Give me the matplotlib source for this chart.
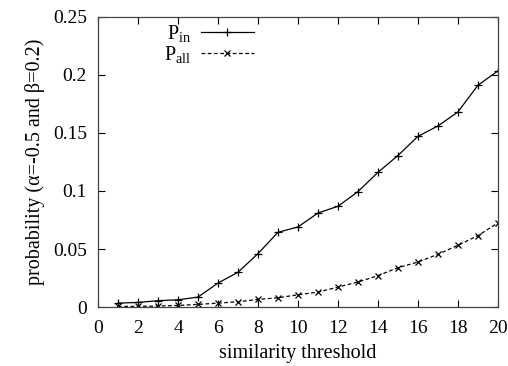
import matplotlib
matplotlib.use('Agg')
import matplotlib.pyplot as plt

plt.rcParams['font.family'] = ['Liberation Serif', 'DejaVu Serif']
plt.rcParams['mathtext.fontset'] = 'custom'
plt.rcParams['mathtext.rm'] = 'Liberation Serif'
plt.rcParams['mathtext.it'] = 'Liberation Serif'

# similarity threshold values
thresholds = list(range(1, 21))

# probability series
p_in = [0.0034, 0.0040, 0.0055, 0.0063, 0.0086, 0.0207, 0.0300, 0.0460, 0.0644, 0.0690,
        0.0810, 0.0868, 0.0994, 0.1160, 0.1305, 0.1470, 0.1560, 0.1680, 0.1910, 0.2034]
p_all = [0.0006, 0.0006, 0.0009, 0.0014, 0.0023, 0.0034, 0.0046, 0.0066, 0.0080, 0.0106,
         0.0129, 0.0172, 0.0216, 0.0270, 0.0339, 0.0388, 0.0454, 0.0532, 0.0615, 0.0724]

x_ticks = list(range(0, 21, 2))
y_ticks = [0, 0.05, 0.1, 0.15, 0.2, 0.25]
y_labels = ['0', '0.05', '0.1', '0.15', '0.2', '0.25']

fig = plt.figure(figsize=(5.08, 3.66), dpi=100)
ax = fig.add_axes([0.193, 0.161, 0.787, 0.793])

ax.plot(thresholds, p_in, color='black', linewidth=0.9, marker='+',
        markersize=6, markeredgewidth=0.9, label=r'$\mathrm{P_{in}}$')
ax.plot(thresholds, p_all, color='black', linewidth=0.9, linestyle=(0, (3, 2)),
        marker='x', markersize=5, markeredgewidth=0.9, label=r'$\mathrm{P_{all}}$')

ax.set_xlim(0, 20)
ax.set_ylim(0, 0.25)
ax.set_xticks(x_ticks)
ax.set_yticks(y_ticks)
ax.set_yticklabels(y_labels)
ax.tick_params(direction='in', top=True, right=True, labelsize=14, length=5,
               width=0.8)
ax.tick_params(axis='x', pad=9)
ax.tick_params(axis='y', pad=8)
for s in ax.spines.values():
    s.set_linewidth(0.9)
    s.set_color('#444444')

ax.set_xlabel('similarity threshold', fontsize=14.5, labelpad=5)
ax.set_ylabel('probability (α=-0.5 and β=0.2)', fontsize=14.5, labelpad=6)

ax.legend(loc='upper left', bbox_to_anchor=(0.135, 1.02), frameon=False,
          markerfirst=False, fontsize=14.5, handlelength=2.6, handletextpad=0.5,
          labelspacing=0.0, borderaxespad=0.2)

fig.savefig('out.png', dpi=100)
